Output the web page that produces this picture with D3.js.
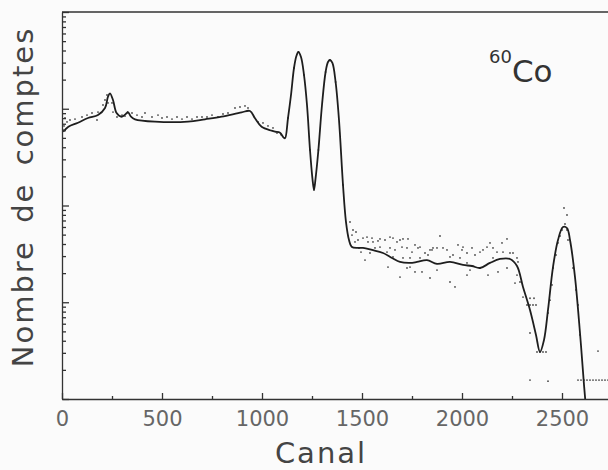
<!DOCTYPE html>
<html>
<head>
<meta charset="utf-8">
<script src="https://cdn.jsdelivr.net/npm/d3@7"></script>
<style>
	body { margin: 0; background: #fbfbfb; }
	svg { display: block; }
	text { font-family: 'DejaVu Sans', sans-serif; }
</style>
</head>
<body>
<div id="chart"></div>
<script>
// Fitted spectrum (solid line), channel -> counts
const curveChannel = [6, 32, 80, 130, 180, 215, 230, 240, 255, 273, 298, 323, 330, 345, 365, 465, 630, 715, 798, 898,
	940, 965, 998, 1048, 1065, 1090, 1107, 1115, 1130, 1145, 1160, 1172, 1182, 1195, 1210, 1225, 1240, 1252, 1260, 1268,
	1282, 1300, 1318, 1330, 1340, 1352, 1368, 1385, 1405, 1420, 1435, 1448, 1480, 1505, 1550, 1605, 1650, 1690, 1740, 1775,
	1825, 1875, 1940, 2005, 2050, 2090, 2140, 2190, 2240, 2275, 2305, 2340, 2370, 2390, 2410, 2430, 2455, 2480, 2505, 2525,
	2540, 2565, 2590, 2610, 2625];
const curveCount = [579, 652, 717, 802, 861, 1018, 1334, 1445, 1231, 903, 827, 897, 925, 827, 778, 735, 735, 778, 827, 918,
	948, 797, 652, 593, 579, 565, 507, 495, 802, 1387, 2637, 3508, 3862, 3428, 2233, 1093, 375, 192, 145, 192,
	375, 1093, 2398, 3041, 3191, 2972, 1890, 765, 163, 67.5, 44.0, 37.5, 36.4, 36.4, 34.7, 32.3, 28.7, 26.1, 25.5, 26.1,
	27.3, 24.9, 26.1, 24.3, 23.7, 22.6, 25.5, 28.0, 28.0, 23.7, 14.4, 8.32, 4.59, 3.06, 4.07, 8.32, 23.1, 44.0, 59.9, 58.5,
	44.0, 18.2, 4.81, 1.40, 0.61];

// Measured points (dots)
const dotChannel = [5, 10, 15, 25, 40, 65, 100, 125, 150, 175, 180, 205, 215, 225, 230, 250, 255, 275, 300, 315,
	350, 375, 400, 415, 450, 480, 500, 525, 550, 575, 600, 625, 650, 675, 700, 725, 750, 780, 805, 830,
	865, 890, 915, 930, 980, 1005, 1030, 1055, 1075, 1095, 1130, 1160, 1182, 1210, 1240, 1260, 1282, 1318, 1340, 1368,
	1405, 1440, 1455, 1470, 1450, 1480, 1465, 1505, 1525, 1550, 1530, 1555, 1580, 1590, 1615, 1640, 1655, 1675, 1690, 1705,
	1730, 1495, 1515, 1540, 1565, 1590, 1625, 1640, 1665, 1700, 1725, 1750, 1765, 1780, 1790, 1815, 1830, 1840, 1855, 1630,
	1690, 1725, 1740, 1765, 1800, 1840, 1740, 1790, 1705, 1655, 1890, 1850, 1875, 1905, 1925, 1955, 1980, 2000, 2005, 2025,
	2050, 2065, 2090, 2105, 2125, 2140, 2155, 2175, 2200, 2225, 2205, 2240, 2255, 2275, 2280, 1875, 1940, 1965, 2025, 2040,
	2090, 2130, 2180, 2225, 2275, 2025, 1990, 1940, 2155, 2290, 2265, 2305, 2325, 2340, 2355, 2370, 2340, 2360, 2340, 2340,
	2375, 2390, 2405, 2420, 2430, 2430, 2440, 2450, 2455, 2470, 2480, 2490, 2500, 2510, 2515, 2525, 2525, 2530, 2555, 2570,
	2580, 2590, 2680, 2580, 2595, 2610, 2625, 2640, 2655, 2670, 2685, 2700, 2715, 2730];
const dotCount = [603, 664, 802, 730, 765, 783, 822, 861, 904, 765, 925, 1094, 1231, 1387, 1148, 1148, 925, 822, 861, 841,
	904, 861, 822, 904, 822, 861, 802, 822, 783, 822, 783, 822, 783, 822, 822, 822, 861, 822, 883, 904,
	1018, 1043, 1069, 1018, 730, 713, 664, 633, 560, 540, 802, 2637, 3862, 2233, 375, 145, 375, 2398, 3191, 1890,
	163, 67.5, 55.8, 53.2, 49.5, 44.0, 42.0, 46.1, 47.2, 46.1, 42.0, 42.0, 43.0, 45.1, 44.0, 47.2, 46.1, 42.0, 44.0, 45.1,
	45.1, 33.0, 27.3, 32.3, 36.4, 37.2, 33.0, 36.4, 34.7, 37.2, 36.4, 33.0, 39.1, 36.4, 37.2, 32.3, 30.8, 34.7, 36.4, 23.1,
	18.2, 22.6, 23.1, 20.6, 20.6, 17.8, 28.7, 28.7, 28.7, 29.4, 48.4, 34.7, 36.4, 36.4, 34.7, 30.8, 39.1, 34.7, 37.2, 32.3,
	36.4, 30.8, 33.0, 34.7, 37.2, 41.0, 36.4, 33.0, 41.0, 45.1, 33.0, 32.3, 32.3, 28.7, 26.1, 21.5, 16.2, 14.4, 19.1, 21.5,
	22.6, 19.1, 20.6, 22.6, 19.1, 25.5, 28.7, 29.4, 28.7, 16.2, 15.8, 11.3, 9.37, 9.37, 9.37, 9.37, 11.0, 11.0, 4.81, 1.57,
	3.06, 3.06, 3.06, 3.06, 1.53, 7.74, 10.5, 15.1, 22.6, 30.8, 41.0, 48.4, 55.8, 94.2, 64.4, 79.8, 55.8, 44.0, 22.6, 13.4,
	9.37, 4.59, 3.13, 1.57, 1.57, 1.57, 1.57, 1.57, 1.57, 1.57, 1.57, 1.57, 1.57, 1.57];

// Axis ticks
const xMajorTicks = [0, 500, 1000, 1500, 2000, 2500];
const xMinorTicks = [250, 750, 1250, 1750, 2250];
const yDecades = [1, 10, 100, 1000, 10000];

const width = 608,
	height = 470,
	plotLeft = 62,
	plotTop = 12,
	plotBottom = 399;

const svg = d3.select('#chart').append('svg')
	.attr('width', width)
	.attr('height', height);

const x = d3.scaleLinear()
	.domain([0, 2730])
	.range([plotLeft, width]);

const y = d3.scaleLog()
	.domain([1, 10000])
	.range([plotBottom, plotTop]);

// minor log ticks 2..9 in each decade
const yMinorTicks = [];
yDecades.slice(0, -1).forEach(d => {
	for (let k = 2; k <= 9; k++) yMinorTicks.push(d * k);
});

svg.append('clipPath')
	.attr('id', 'plotArea')
	.append('rect')
	.attr('x', plotLeft)
	.attr('y', plotTop)
	.attr('width', width - plotLeft)
	.attr('height', plotBottom - plotTop);

// Dots
svg.append('g')
	.attr('clip-path', 'url(#plotArea)')
	.selectAll('circle')
	.data(dotChannel.map((c, i) => [c, dotCount[i]]))
	.enter()
	.append('circle')
		.attr('cx', d => x(d[0]))
		.attr('cy', d => y(d[1]))
		.attr('r', 0.9)
		.style('fill', '#4a4a4a');

// Fitted curve
const line = d3.line()
	.x(d => x(d[0]))
	.y(d => y(d[1]))
	.curve(d3.curveCatmullRom.alpha(0.5));

svg.append('path')
	.datum(curveChannel.map((c, i) => [c, curveCount[i]]))
	.attr('clip-path', 'url(#plotArea)')
	.attr('d', line)
	.style('fill', 'none')
	.style('stroke', '#1e1e1e')
	.style('stroke-width', 1.8);

// X axis (ticks inward)
const xAxis = svg.append('g')
	.attr('transform', 'translate(0,' + plotBottom + ')')
	.call(d3.axisBottom(x).tickValues(xMajorTicks).tickSize(-6).tickSizeOuter(0).tickPadding(12).tickFormat(d3.format('d')));
xAxis.selectAll('text')
	.style('font-size', '21px')
	.style('fill', '#666');

svg.append('g')
	.attr('transform', 'translate(0,' + plotBottom + ')')
	.call(d3.axisBottom(x).tickValues(xMinorTicks).tickSize(-3).tickFormat(''))
	.select('.domain').remove();

// Y axis (no labels, ticks inward)
svg.append('g')
	.attr('transform', 'translate(' + plotLeft + ',0)')
	.call(d3.axisLeft(y).tickValues(yDecades).tickSize(-7).tickSizeOuter(0).tickFormat(''));

svg.append('g')
	.attr('transform', 'translate(' + plotLeft + ',0)')
	.call(d3.axisLeft(y).tickValues(yMinorTicks).tickSize(-4).tickFormat(''))
	.select('.domain').remove();

// Top frame line
svg.append('line')
	.attr('x1', plotLeft).attr('x2', width)
	.attr('y1', plotTop).attr('y2', plotTop);

svg.selectAll('.domain, .tick line, line')
	.style('stroke', '#333')
	.style('stroke-width', 1.3);

// Axis titles
svg.append('text')
	.attr('x', 321)
	.attr('y', 463)
	.attr('text-anchor', 'middle')
	.style('font-size', '29px')
	.style('letter-spacing', '2px')
	.style('fill', '#444')
	.text('Canal');

svg.append('text')
	.attr('transform', 'translate(33,197) rotate(-90)')
	.attr('text-anchor', 'middle')
	.style('font-size', '29px')
	.style('letter-spacing', '2px')
	.style('word-spacing', '6px')
	.style('fill', '#444')
	.text('Nombre de comptes');

// Isotope label
const iso = svg.append('text')
	.attr('x', 489)
	.attr('y', 82)
	.style('fill', '#333');
iso.append('tspan')
	.attr('dy', -19)
	.style('font-size', '18px')
	.text('60');
iso.append('tspan')
	.attr('dy', 19)
	.style('font-size', '31px')
	.text('Co');
</script>
</body>
</html>
